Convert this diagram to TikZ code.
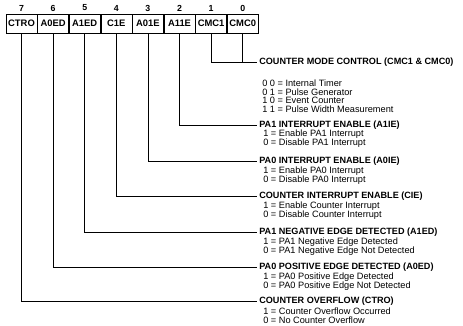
\documentclass[tikz,border=0pt]{standalone}
\usepackage{fontspec}
\setmainfont{Liberation Sans}
\usetikzlibrary{positioning}

\begin{document}
\begin{tikzpicture}[x=1pt, y=-1pt, line width=0.6pt,
    bitbox/.style={draw, minimum width=31pt, minimum height=19pt, inner sep=0pt,
        font=\bfseries\fontsize{9.4}{9}\selectfont},
    bitnum/.style={inner sep=0pt, font=\bfseries\fontsize{8.8}{9}\selectfont},
    title/.style={anchor=west, inner sep=2pt, font=\bfseries\fontsize{9.1}{9}\selectfont},
    opt/.style={anchor=north west, inner sep=0pt, align=left,
        font=\fontsize{9.2}{8.8}\selectfont}]
    \useasboundingbox (0,0) rectangle (463,326);
    % the register, bit 7 on the left
    \node[bitbox] (ctro) at (21.5,23.5) {CTRO};
    \node[bitbox, right=0pt of ctro] (a0ed) {A0ED};
    \node[bitbox, right=0pt of a0ed] (a1ed) {A1ED};
    \node[bitbox, right=0pt of a1ed] (c1e) {C1E};
    \node[bitbox, right=0pt of c1e] (a01e) {A01E};
    \node[bitbox, right=0pt of a01e] (a11e) {A11E};
    \node[bitbox, right=0pt of a11e] (cmc1) {CMC1};
    \node[bitbox, right=0pt of cmc1] (cmc0) {CMC0};
    \foreach \b/\n in {ctro/7, a0ed/6, a1ed/5, c1e/4, a01e/3, a11e/2, cmc1/1, cmc0/0}
        \node[bitnum] (n\n) at ([yshift=15.5pt]\b.center) {\n};

    % field descriptions
    \node[title] (mode) at (257,62) {COUNTER MODE CONTROL (CMC1 \& CMC0)};
    \node[opt] (modeopt) at (262,79.4) {0 0 = Internal Timer\\0 1 = Pulse Generator\\1 0 = Event Counter\\1 1 = Pulse Width Measurement};
    \node[title] (pa1ie) at (257,125.5) {PA1 INTERRUPT ENABLE (A1IE)};
    \node[opt] (pa1ieopt) at (263,129.4) {1 = Enable PA1 Interrupt\\0 = Disable PA1 Interrupt};
    \node[title] (pa0ie) at (257,161.5) {PA0 INTERRUPT ENABLE (A0IE)};
    \node[opt] (pa0ieopt) at (263,166.4) {1 = Enable PA0 Interrupt\\0 = Disable PA0 Interrupt};
    \node[title] (cie) at (257,196) {COUNTER INTERRUPT ENABLE (CIE)};
    \node[opt] (cieopt) at (263,201.4) {1 = Enable Counter Interrupt\\0 = Disable Counter Interrupt};
    \node[title] (negedge) at (257,232) {PA1 NEGATIVE EDGE DETECTED (A1ED)};
    \node[opt] (negedgeopt) at (263,237.4) {1 = PA1 Negative Edge Detected\\0 = PA1 Negative Edge Not Detected};
    \node[title] (posedge) at (257,267) {PA0 POSITIVE EDGE DETECTED (A0ED)};
    \node[opt] (posedgeopt) at (263,272.4) {1 = PA0 Positive Edge Detected\\0 = PA0 Positive Edge Not Detected};
    \node[title] (ovf) at (257,301) {COUNTER OVERFLOW (CTRO)};
    \node[opt] (ovfopt) at (263,307.4) {1 = Counter Overflow Occurred\\0 = No Counter Overflow};

    % leader lines
    \foreach \b/\t in {cmc1/mode, cmc0/mode, a11e/pa1ie, a01e/pa0ie, c1e/cie,
                       a1ed/negedge, a0ed/posedge, ctro/ovf}
        \draw (\b.south) |- (\t.west);
\end{tikzpicture}
\end{document}
